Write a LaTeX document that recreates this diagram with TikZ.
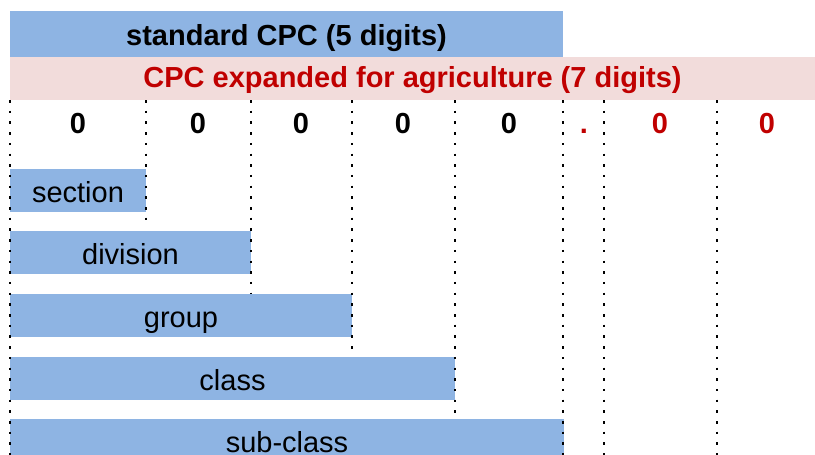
\documentclass[tikz,border=0pt]{standalone}
\usepackage{fontspec}
\setmainfont{Liberation Sans}
\definecolor{barblue}{HTML}{8EB4E3}
\definecolor{barpink}{HTML}{F2DCDB}
\definecolor{digred}{HTML}{C00000}
\begin{document}
\begin{tikzpicture}[x=1pt,y=-1pt,
  every node/.style={inner sep=0pt, outer sep=0pt, font=\fontsize{29}{34}\selectfont},
  bar/.style={fill=barblue, anchor=north west, minimum height=43pt, text height=23pt, text depth=0pt},
  boldtext/.style={font=\fontsize{29}{34}\selectfont\bfseries},
  gridline/.style={line width=2.5pt, dash pattern=on 2.5pt off 8.2pt},
  digit/.style={anchor=base, boldtext}]
\clip (0,0) rectangle (815,455);
% header bars
\node[bar, fill=barpink, minimum width=805pt, boldtext, text=digred, text height=20pt, text depth=2pt] (agri) at (10,57) {CPC expanded for agriculture (7 digits)};
\node[bar, minimum width=553pt, minimum height=46pt, boldtext] (std) at (10,11) {standard CPC (5 digits)};
% level bars
\node[bar, minimum width=136pt] (section) at (10,169) {section};
\node[bar, minimum width=241pt] (division) at (10,231) {division};
\node[bar, minimum width=342pt] (group) at (10,294) {group};
\node[bar, minimum width=445pt] (class) at (10,357) {class};
\node[bar, minimum width=554pt] (subclass) at (10,419) {sub-class};
% digits
\node[digit] (d1) at (78,133) {0};
\node[digit] (d2) at (198,133) {0};
\node[digit] (d3) at (301,133) {0};
\node[digit] (d4) at (403,133) {0};
\node[digit] (d5) at (509,133) {0};
\node[digit, text=digred] (dot) at (584,133) {.};
\node[digit, text=digred] (d6) at (660,133) {0};
\node[digit, text=digred] (d7) at (767,133) {0};
% dotted column separators
\coordinate (g0t) at (10,100);  \coordinate (g0b) at (10,455);
\coordinate (g1t) at (146,100); \coordinate (g1b) at (146,228);
\coordinate (g2t) at (251,100); \coordinate (g2b) at (251,293);
\coordinate (g3t) at (352,100); \coordinate (g3b) at (352,356);
\coordinate (g4t) at (455,100); \coordinate (g4b) at (455,418);
\coordinate (g5t) at (563,100); \coordinate (g5b) at (563,455);
\coordinate (g6t) at (604,100); \coordinate (g6b) at (604,455);
\coordinate (g7t) at (717,100); \coordinate (g7b) at (717,455);
\foreach \i in {0,...,7} {\draw[gridline] (g\i t) -- (g\i b);}
\end{tikzpicture}
\end{document}
